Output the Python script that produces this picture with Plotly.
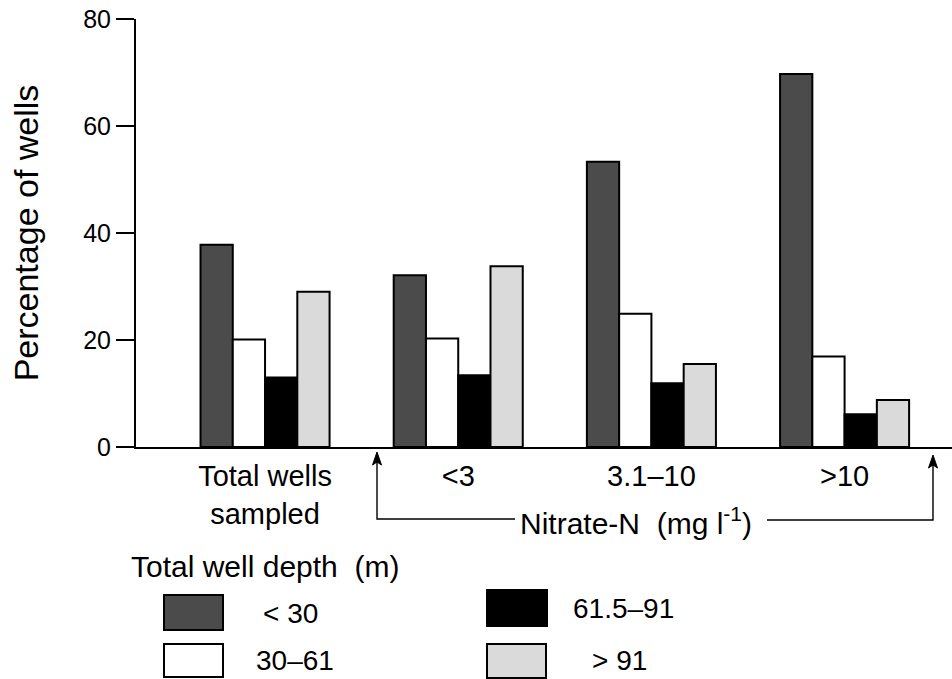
import plotly.graph_objects as go

# ---- data ----
categories = ["Total wells<br>sampled", "<3", "3.1–10", ">10"]
depth_classes = ["< 30", "30–61", "61.5–91", "> 91"]
pct_lt30 = [37.8, 32.1, 53.3, 69.7]
pct_30_61 = [20.1, 20.3, 24.9, 16.9]
pct_61_91 = [13.0, 13.4, 11.9, 6.1]
pct_gt91 = [29.0, 33.8, 15.5, 8.8]
y_ticks = [0, 20, 40, 60, 80]

series = [pct_lt30, pct_30_61, pct_61_91, pct_gt91]
fills = ["#4b4b4b", "#ffffff", "#000000", "#dadada"]

# the page body margin is removed (see post_script), so figure pixels == window pixels
W, H = 952, 679
PLOT_L, PLOT_R, PLOT_T, PLOT_B = 136, 952, 19, 447   # plot area in window pixels
L, T, R, B = PLOT_L, PLOT_T, W - PLOT_R, H - PLOT_B
PW, PH = PLOT_R - PLOT_L, PLOT_B - PLOT_T


def px(x):
    return (x - PLOT_L) / PW


def py(y):
    return (PLOT_B - y) / PH


FONT = "Liberation Sans, Arial, Helvetica, sans-serif"

fig = go.Figure()
for name, vals, col in zip(depth_classes, series, fills):
    fig.add_trace(go.Bar(
        x=list(range(len(categories))), y=vals, name=name,
        marker=dict(color=col, line=dict(color="black", width=2)),
        showlegend=False,
    ))

shapes = []
annotations = []

# Nitrate-N bracket lines with arrows
shapes.append(dict(type="path", xref="paper", yref="paper",
                   path=f"M {px(377)} {py(462)} L {px(377)} {py(519)} L {px(515)} {py(519)}",
                   line=dict(color="black", width=1.4)))
shapes.append(dict(type="path", xref="paper", yref="paper",
                   path=f"M {px(767)} {py(520)} L {px(933)} {py(520)} L {px(933)} {py(465)}",
                   line=dict(color="black", width=1.4)))
for xa, ya in ((377, 452), (933, 455)):
    shapes.append(dict(type="path", xref="paper", yref="paper",
                       path=(f"M {px(xa)} {py(ya)} L {px(xa - 4.5)} {py(ya + 13)} "
                             f"L {px(xa)} {py(ya + 10)} L {px(xa + 4.5)} {py(ya + 13)} Z"),
                       fillcolor="black", line=dict(color="black", width=1)))
annotations.append(dict(xref="paper", yref="paper", x=px(636), y=py(521),
                        xanchor="center", yanchor="middle",
                        text="Nitrate-N\u00a0\u00a0(mg l<sup>-1</sup>)", showarrow=False,
                        font=dict(size=30, color="black", family=FONT)))

# Legend (drawn manually)
annotations.append(dict(xref="paper", yref="paper", x=px(129), y=py(566),
                        xanchor="left", yanchor="middle",
                        text="Total well depth\u00a0\u00a0(m)", showarrow=False,
                        font=dict(size=30, color="black", family=FONT)))
legend_boxes = [(164, 595, 223, 630), (164, 644, 223, 677), (487, 590, 547, 626), (487, 644, 546, 678)]
legend_text_pos = [(261, 613), (254, 660), (571, 608), (590, 660)]
for (x0, y0, x1, y1), col, (tx, ty), name in zip(legend_boxes, fills, legend_text_pos, depth_classes):
    shapes.append(dict(type="rect", xref="paper", yref="paper",
                       x0=px(x0), x1=px(x1), y0=py(y1), y1=py(y0),
                       fillcolor=col, line=dict(color="black", width=2)))
    annotations.append(dict(xref="paper", yref="paper", x=px(tx), y=py(ty),
                            xanchor="left", yanchor="middle", text=name, showarrow=False,
                            font=dict(size=28, color="black", family=FONT)))

fig.update_layout(
    width=W, height=H,
    margin=dict(l=L, r=R, t=T, b=B, autoexpand=False),
    paper_bgcolor="white", plot_bgcolor="white",
    barmode="group", bargap=0.332, bargroupgap=0,
    font=dict(family=FONT, color="black", size=25),
    shapes=shapes, annotations=annotations,
    xaxis=dict(
        range=[-0.668, 3.556], tickvals=list(range(len(categories))), ticktext=categories,
        showline=True, linecolor="black", linewidth=2, ticks="", showgrid=False,
        zeroline=False, tickfont=dict(size=29, color="black", family=FONT),
        ticklabelstandoff=2,
    ),
    yaxis=dict(
        range=[0, 80], tickvals=y_ticks, showline=True, linecolor="black", linewidth=2,
        ticks="outside", ticklen=18, tickwidth=2, tickcolor="black", showgrid=False,
        zeroline=False, tickfont=dict(size=25, color="black", family=FONT),
        ticklabeloverflow="allow",
        title=dict(text="Percentage of wells", font=dict(size=34, color="black", family=FONT),
                   standoff=34),
    ),
)

fig.write_html("out.html", config={"displayModeBar": False},
               post_script="document.body.style.margin='0px';document.body.style.overflow='hidden';")
